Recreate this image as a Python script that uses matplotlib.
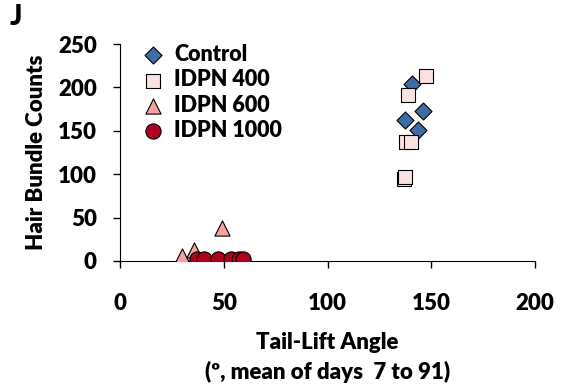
import matplotlib.pyplot as plt

# tail-lift angle (x) and hair bundle counts (y) per animal
control_x = [137.5, 140.9, 143.8, 145.8]
control_y = [162.7, 204.0, 151.0, 172.8]
idpn400_x = [137.0, 137.5, 138.0, 140.0, 139.0, 147.7]
idpn400_y = [95.0, 97.0, 137.0, 137.0, 191.0, 213.6]
idpn600_x = [29.5, 35.4, 48.8]
idpn600_y = [6.0, 13.0, 38.0]
idpn1000_x = [36.8, 40.2, 47.2, 53.3, 57.0, 59.3]
idpn1000_y = [2.0, 2.0, 2.0, 2.0, 2.0, 2.0]

W = 'heavy'
plt.rcParams['font.family'] = ['Lato', 'DejaVu Sans']
plt.rcParams['font.weight'] = W

fig = plt.figure(figsize=(5.63, 3.90), dpi=100)
ax = fig.add_axes([0.214, 0.331, 0.736, 0.556])

ax.scatter(control_x, control_y, marker='D', s=75, c='#3d6da5', edgecolors='black', linewidths=0.8, label='Control', zorder=3)
ax.scatter(idpn400_x, idpn400_y, marker='s', s=105, c='#fbe2e2', edgecolors='black', linewidths=0.8, label='IDPN 400', zorder=3)
ax.scatter(idpn600_x, idpn600_y, marker='^', s=120, c='#f2a2a2', edgecolors='black', linewidths=0.8, label='IDPN 600', zorder=3)
ax.scatter(idpn1000_x, idpn1000_y, marker='o', s=120, c='#ac001e', edgecolors='black', linewidths=0.8, label='IDPN 1000', zorder=3)

ax.set_xlim(0, 200)
ax.set_ylim(0, 250)
ax.set_xticks([0, 50, 100, 150, 200])
ax.set_yticks([0, 50, 100, 150, 200, 250])
ax.spines['top'].set_visible(False)
ax.spines['right'].set_visible(False)
ax.tick_params(labelsize=16, length=5, width=1)
for lbl in ax.get_xticklabels() + ax.get_yticklabels():
	lbl.set_fontweight(W)
ax.tick_params(axis='x', pad=18)
ax.tick_params(axis='y', pad=12)

ax.set_xlabel('Tail-Lift Angle\n(º, mean of days  7 to 91)', fontsize=16, fontweight=W, labelpad=13, linespacing=1.45)
ax.set_ylabel('Hair Bundle Counts', fontsize=16, fontweight=W, labelpad=8)

leg = ax.legend(loc='upper left', bbox_to_anchor=(-0.01, 1.07), frameon=False,
	handletextpad=0.0, labelspacing=0.2, borderpad=0.2, prop={'weight': W, 'size': 15.5})

fig.text(0.018, 0.99, 'J', fontsize=21, fontweight='black', va='top', ha='left')

plt.savefig('out.png', dpi=100)
